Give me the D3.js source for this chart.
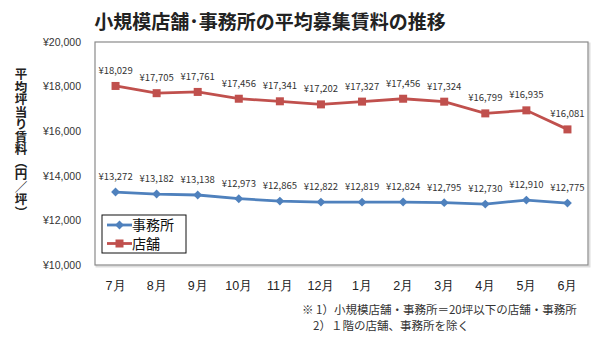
<!DOCTYPE html>
<html>
<head>
<meta charset="utf-8">
<script src="https://cdn.jsdelivr.net/npm/d3@7"></script>
<style>
  body { margin: 0; background: #fff; }
  svg { display: block; font-family: "Noto Sans CJK JP", "Noto Sans", sans-serif; }
</style>
</head>
<body>
<svg id="chart" width="600" height="340"></svg>
<script>
// データ
const months = ["7月", "8月", "9月", "10月", "11月", "12月", "1月", "2月", "3月", "4月", "5月", "6月"];
const officeRent = [13272, 13182, 13138, 12973, 12865, 12822, 12819, 12824, 12795, 12730, 12910, 12775];
const shopRent = [18029, 17705, 17761, 17456, 17341, 17202, 17327, 17456, 17324, 16799, 16935, 16081];
const yTicks = [10000, 12000, 14000, 16000, 18000, 20000];

const svg = d3.select("#chart");
const width = +svg.attr("width");
const height = +svg.attr("height");

// 余白
const plotLeft = 95, plotRight = 588, plotTop = 42, plotBottom = 265;

const x = d3.scaleBand()
  .domain(months)
  .range([plotLeft, plotRight]);

const y = d3.scaleLinear()
  .domain([10000, 20000])
  .range([plotBottom, plotTop]);

const yen = d => "¥" + d3.format(",")(d);

// タイトル
svg.append("text")
  .attr("x", 270)
  .attr("y", 29)
  .attr("text-anchor", "middle")
  .style("font-size", "19px")
  .style("font-weight", "bold")
  .attr("fill", "#222")
  .text("小規模店舗･事務所の平均募集賃料の推移");

// 枠
svg.append("rect")
  .attr("x", plotLeft + 1.5).attr("y", plotTop + 1.5)
  .attr("width", plotRight - plotLeft).attr("height", plotBottom - plotTop)
  .attr("fill", "none").attr("stroke", "#ddd").attr("stroke-width", 2);
svg.append("rect")
  .attr("x", plotLeft).attr("y", plotTop)
  .attr("width", plotRight - plotLeft).attr("height", plotBottom - plotTop)
  .attr("fill", "#fff").attr("stroke", "#8a8a8a").attr("stroke-width", 1.2);

// Y軸
const yAxis = svg.append("g")
  .attr("transform", `translate(${plotLeft - 11},0)`)
  .call(d3.axisLeft(y).tickValues(yTicks).tickFormat(yen).tickSize(0));
yAxis.select(".domain").remove();
yAxis.selectAll("text")
  .style("font-size", "10.5px")
  .attr("fill", "#333");

// X軸
const xAxis = svg.append("g")
  .attr("transform", `translate(0,${plotBottom + 13})`)
  .call(d3.axisBottom(x).tickSize(0));
xAxis.select(".domain").remove();
xAxis.selectAll("text")
  .style("font-size", "12.5px")
  .attr("fill", "#222");

// Y軸タイトル（縦書き）
svg.append("text")
  .attr("x", 21)
  .attr("y", 68)
  .style("writing-mode", "vertical-rl")
  .style("font-size", "12.5px")
  .style("font-weight", "bold")
  .attr("fill", "#222")
  .text("平均坪当り賃料（円／坪）");

const cx = (d, i) => x(months[i]) + x.bandwidth() / 2;

const line = d3.line()
  .x((d, i) => cx(d, i))
  .y(d => y(d));

// 店舗
svg.append("path")
  .datum(shopRent)
  .attr("d", line)
  .attr("fill", "none")
  .attr("stroke", "#c0504d")
  .attr("stroke-width", 2.8);

svg.selectAll(".shop")
  .data(shopRent)
  .enter()
  .append("rect")
    .attr("x", (d, i) => cx(d, i) - 4)
    .attr("y", d => y(d) - 4)
    .attr("width", 8)
    .attr("height", 8)
    .attr("fill", "#c0504d");

// 事務所
svg.append("path")
  .datum(officeRent)
  .attr("d", line)
  .attr("fill", "none")
  .attr("stroke", "#4f81bd")
  .attr("stroke-width", 2.8);

svg.selectAll(".office")
  .data(officeRent)
  .enter()
  .append("path")
    .attr("d", d3.symbol(d3.symbolDiamond2, 50))
    .attr("transform", (d, i) => `translate(${cx(d, i)},${y(d)})`)
    .attr("fill", "#4f81bd");

// データラベル
[shopRent, officeRent].forEach(series => {
  svg.append("g")
    .selectAll("text")
    .data(series)
    .enter()
    .append("text")
      .attr("x", (d, i) => cx(d, i))
      .attr("y", d => y(d) - 12)
      .attr("text-anchor", "middle")
      .style("font-size", "9.5px")
      .attr("fill", "#333")
      .text(yen);
});

// 凡例
const legend = svg.append("g").attr("transform", "translate(102,215)");
legend.append("rect")
  .attr("width", 84).attr("height", 38)
  .attr("fill", "#fff").attr("stroke", "#111").attr("stroke-width", 1);

const legendItems = [
  { name: "事務所", color: "#4f81bd", shape: "diamond" },
  { name: "店舗", color: "#c0504d", shape: "square" }
];
legendItems.forEach((it, i) => {
  const g = legend.append("g").attr("transform", `translate(0,${10 + i * 18.5})`);
  g.append("line")
    .attr("x1", 5).attr("x2", 30)
    .attr("stroke", it.color).attr("stroke-width", 2.8);
  if (it.shape === "diamond") {
    g.append("path")
      .attr("d", d3.symbol(d3.symbolDiamond2, 50))
      .attr("transform", "translate(17.5,0)")
      .attr("fill", it.color);
  } else {
    g.append("rect")
      .attr("x", 13.5).attr("y", -4).attr("width", 8).attr("height", 8)
      .attr("fill", it.color);
  }
  g.append("text")
    .attr("x", 30).attr("y", 5)
    .style("font-size", "14px")
    .attr("fill", "#111")
    .text(it.name);
});

// 注記
svg.append("text")
  .attr("x", 302).attr("y", 314)
  .style("font-size", "11.5px")
  .attr("fill", "#333")
  .text("※ 1）小規模店舗・事務所＝20坪以下の店舗・事務所");
svg.append("text")
  .attr("x", 313).attr("y", 330)
  .style("font-size", "11.5px")
  .attr("fill", "#333")
  .text("2）１階の店舗、事務所を除く");
</script>
</body>
</html>
